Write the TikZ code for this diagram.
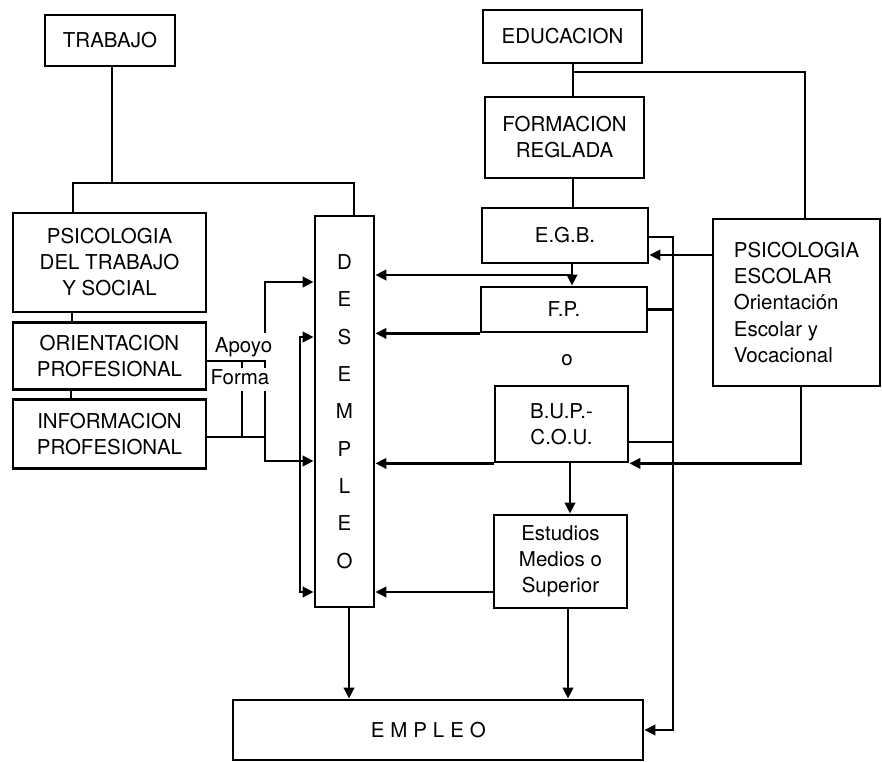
\documentclass[tikz,border=0pt]{standalone}
\usepackage{fontspec}
\setmainfont{TeX Gyre Heros}
\usepackage{tikz}
\usetikzlibrary{calc,positioning,arrows.meta}

\begin{document}
\begin{tikzpicture}[x=1in,y=1in,line width=2pt,
  blk/.style={draw,inner sep=2pt,align=center,font=\fontsize{14.8}{18.8}\selectfont},
  lbl/.style={inner sep=1pt,font=\fontsize{14.8}{18.8}\selectfont},
  arr/.style={-{Triangle[length=8pt,width=7.5pt]}},
  arrboth/.style={{Triangle[length=8pt,width=7.5pt]}-{Triangle[length=8pt,width=7.5pt]}}]
\useasboundingbox (0,0) rectangle (8.82,-7.62);
% left column
\node[blk,minimum width=1.30in,minimum height=0.51in] (trabajo) at (1.10,-0.405) {TRABAJO};
\node[blk,minimum width=1.93in,minimum height=0.99in] (psicot) at (1.095,-2.625) {PSICOLOGIA\\DEL TRABAJO\\Y SOCIAL};
\node[blk,minimum width=1.93in,minimum height=0.67in,below=0.08in of psicot] (orient) {ORIENTACION\\PROFESIONAL};
\node[blk,minimum width=1.93in,minimum height=0.69in,below=0.07in of orient] (inform) {INFORMACION\\PROFESIONAL};
\node[blk,minimum width=0.59in,minimum height=3.91in,font=\fontsize{14.8}{27}\selectfont] (desempleo) at (3.445,-4.115) {D\\E\\S\\E\\M\\P\\L\\E\\O};
% right column
\node[blk,minimum width=1.59in,minimum height=0.53in] (educacion) at (5.625,-0.365) {EDUCACION};
\node[blk,minimum width=1.59in,minimum height=0.81in] (formacion) at (5.645,-1.375) {FORMACION\\REGLADA};
\node[blk,minimum width=1.66in,minimum height=0.55in] (egb) at (5.65,-2.355) {E.G.B.};
\node[blk,minimum width=1.66in,minimum height=0.45in] (fp) at (5.64,-3.095) {F.P.};
\node[lbl] (orlabel) at (5.67,-3.60) {o};
\node[blk,minimum width=1.33in,minimum height=0.76in] (bup) at (5.615,-4.24) {B.U.P.-\\C.O.U.};
\node[blk,minimum width=1.33in,minimum height=0.93in] (estudios) at (5.605,-5.615) {Estudios\\Medios o\\Superior};
\node[blk,align=left,minimum width=1.67in,minimum height=1.67in] (escolar) at (7.965,-3.025) {PSICOLOGIA\\ESCOLAR\\Orientación\\Escolar y\\Vocacional};
\node[blk,minimum width=4.10in,minimum height=0.60in] (empleo) at (4.38,-7.30) {E\kern4.3pt M\kern4.3pt P\kern4.3pt L\kern4.3pt E\kern4.3pt O\kern14pt};
% TRABAJO branch
\coordinate (tbar) at (1.12,-1.83);
\draw (trabajo.south -| tbar) -- (tbar);
\draw (psicot.north -| 0.73,0) |- (tbar) -| (desempleo.north -| 3.54,0);
\draw (psicot.south -| 0.72,0) -- (orient.north -| 0.72,0);
\draw (orient.south -| 0.71,0) -- (inform.north -| 0.71,0);
% Apoyo / Forma
\node[lbl] (apoyo) at (2.435,-3.475) {Apoyo};
\node[lbl] (forma) at (2.40,-3.775) {Forma};
\coordinate (ap) at (2.65,-3.61);
\coordinate (apmid) at (2.42,-3.61);
\coordinate (apup) at (2.65,-3.33);
\coordinate (fo) at (2.65,-4.37);
\coordinate (fomid) at (2.42,-4.37);
\draw (orient.east |- ap) -- (ap) -- ++(0,-0.07);
\draw (apmid) -- ++(0,-0.07);
\draw[arr] (apup) |- (desempleo.west |- 0,-2.82);
\draw (inform.east |- fo) -- (fo) -- ++(0,0.46);
\draw (fomid) -- ++(0,0.46);
\draw[arr] (fo) |- (desempleo.west |- 0,-4.61);
\coordinate (loopx) at (3.00,-4.6);
\draw[arrboth] (desempleo.west |- 0,-3.37) -| (loopx) |- (desempleo.west |- 0,-5.92);
% EDUCACION branch
\coordinate (edbar) at (5.73,-0.72);
\draw (educacion.south -| edbar) -- (formacion.north -| edbar);
\draw (edbar) -| (escolar.north -| 8.05,0);
\draw (formacion.south -| edbar) -- (egb.north -| edbar);
\coordinate (spine) at (5.72,-2.75);
\draw[arr] (egb.south -| spine) -- (fp.north -| spine);
\draw[arr] (spine) -- (desempleo.east |- spine);
\draw[arr] (fp.south west) -- (desempleo.east |- fp.south west);
\draw[arr] (bup.south west) -- (desempleo.east |- bup.south west);
\draw[arr] (estudios.west |- 0,-5.92) -- (desempleo.east |- 0,-5.92);
\draw[arr] (escolar.west |- 0,-2.55) -- (egb.east |- 0,-2.55);
\draw[arr] (escolar.south -| 8.01,0) |- (bup.south east);
% to EMPLEO
\coordinate (bus) at (6.73,-2.37);
\draw[arr] (egb.east |- bus) -- (bus) |- (empleo.east);
\draw (fp.east) -- (fp.east -| bus);
\draw (bup.east |- 0,-4.42) -- (bus |- 0,-4.42);
\draw[arr] (bup.south -| 5.70,0) -- (estudios.north -| 5.70,0);
\draw[arr] (estudios.south -| 5.68,0) -- (empleo.north -| 5.68,0);
\draw[arr] (desempleo.south -| 3.49,0) -- (empleo.north -| 3.49,0);
\end{tikzpicture}
\end{document}
